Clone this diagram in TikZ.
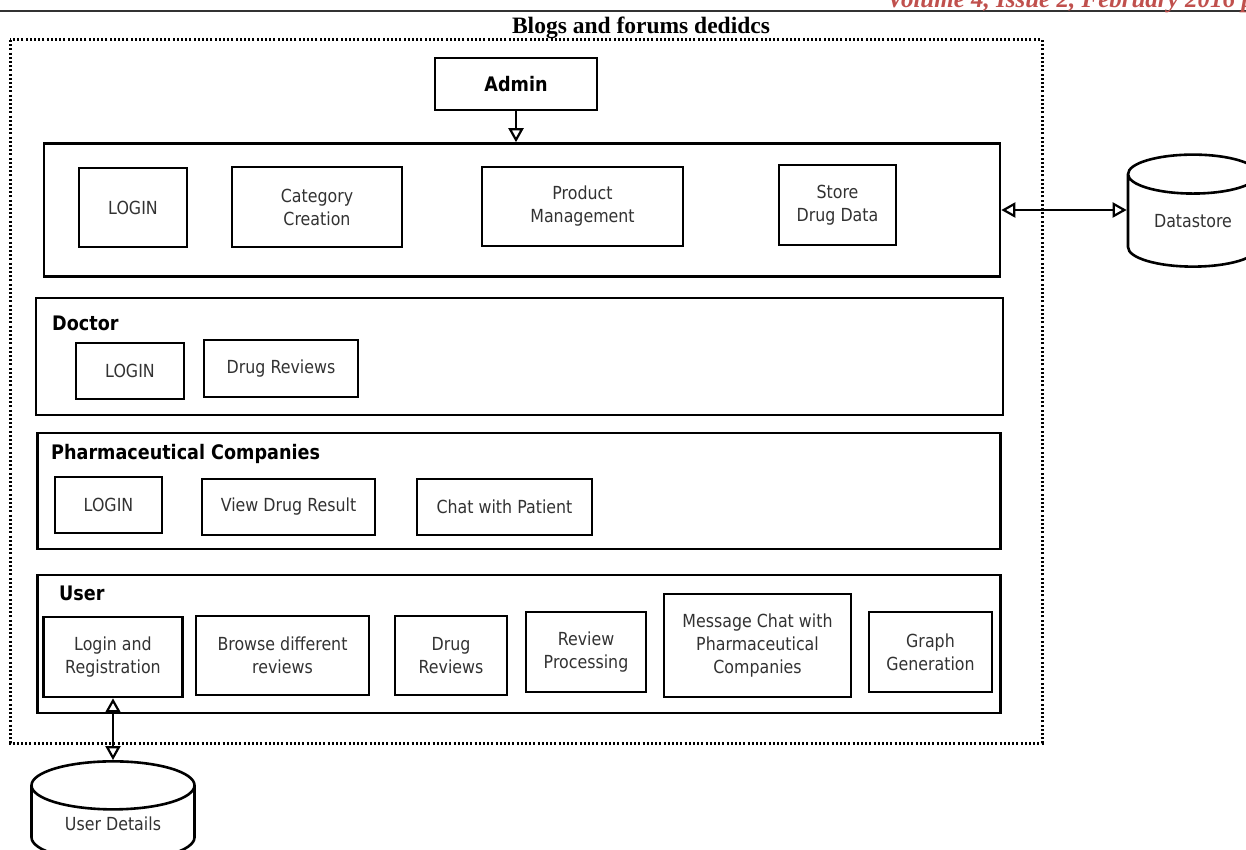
\documentclass[tikz,border=0pt]{standalone}
\usepackage{fontspec}
\setmainfont{Liberation Serif}
\newfontfamily\boxfont[FakeStretch=0.88]{DejaVu Sans}
\usetikzlibrary{arrows.meta,shapes.geometric}
\definecolor{hdrred}{RGB}{192,80,77}
\definecolor{txtgray}{RGB}{50,50,50}
\begin{document}
\begin{tikzpicture}
  [x=1pt,y=-1pt,
   box/.style={draw,line width=2.6pt,inner sep=0pt,align=center,text=txtgray,
     font=\boxfont\fontsize{18}{23}\selectfont},
   panel/.style={draw,line width=2.6pt,inner sep=0pt},
   lbl/.style={anchor=west,inner sep=0pt,font=\boxfont\bfseries\fontsize{20}{24}\selectfont},
   store/.style={cylinder,shape border rotate=90,draw,line width=2.6pt,inner sep=0pt,
     aspect=0.5,text=txtgray,font=\boxfont\fontsize{18}{23}\selectfont},
   link/.style={line width=2.4pt,-{Triangle[open,length=14pt,width=15pt,line width=2.2pt]}},
   dlink/.style={line width=2.4pt,{Triangle[open,length=14pt,width=15pt,line width=2.2pt]}-{Triangle[open,length=14pt,width=15pt,line width=2.2pt]}}]
  \useasboundingbox (0,0) rectangle (1246,850);

  % header
  \draw[line width=1.5pt,black!80] (0,11) -- (1246,11);
  \node (hdr)[anchor=base east,inner sep=0pt,text=hdrred,font=\bfseries\itshape\fontsize{25}{28}\selectfont] at (1254,8) {Volume 4, Issue 2, February 2016 p};
  \node (title)[inner sep=0pt,font=\bfseries\fontsize{23.5}{28}\selectfont] at (641,28) {Blogs and forums dedidcs};
  \draw[line width=3pt,dash pattern=on 2pt off 2.2pt] (10,40) rectangle (1042,743);

  % panels
  \node (apanel)[panel,minimum width=956,minimum height=133] at (522,210) {};
  \node (dpanel)[panel,minimum width=967,minimum height=117] at (519.5,356.5) {};
  \node (ppanel)[panel,minimum width=963,minimum height=116] at (519,491) {};
  \node (upanel)[panel,minimum width=963,minimum height=138] at (519,644) {};

  \node (admin)[box,text=black,minimum width=162,minimum height=52,font=\boxfont\bfseries\fontsize{20}{24}\selectfont] at (516,84) {Admin};
  \node (alogin)[box,minimum width=108,minimum height=79] at (133,207.5) {LOGIN};
  \node (acat)[box,minimum width=170,minimum height=80] at (317,207) {Category\\Creation};
  \node (aprod)[box,minimum width=201,minimum height=79] at (582.5,206.5) {Product\\Management};
  \node (astore)[box,minimum width=117,minimum height=80] at (837.5,205) {Store\\Drug Data};

  \node (dlbl)[lbl] at (52,323) {Doctor};
  \node (dlogin)[box,minimum width=108,minimum height=56] at (130,371) {LOGIN};
  \node (drev)[box,minimum width=154,minimum height=57] at (281,368.5) {Drug Reviews};

  \node (plbl)[lbl] at (51,454) {Pharmaceutical Companies};
  \node (plogin)[box,minimum width=107,minimum height=56] at (108.5,505) {LOGIN};
  \node (pview)[box,minimum width=173,minimum height=56] at (288.5,507) {View Drug Result};
  \node (pchat)[box,minimum width=175,minimum height=56] at (504.5,507) {Chat with Patient};

  \node (ulbl)[lbl] at (59,593) {User};
  \node (ulogin)[box,minimum width=139,minimum height=80] at (113,657) {Login and\\Registration};
  \node (ubrowse)[box,minimum width=173,minimum height=79] at (282.5,655.5) {Browse different\\reviews};
  \node (urev)[box,minimum width=112,minimum height=79] at (451,655.5) {Drug\\Reviews};
  \node (uproc)[box,minimum width=120,minimum height=80] at (586,652) {Review\\Processing};
  \node (umsg)[box,minimum width=187,minimum height=103] at (757.5,645.5) {Message Chat with\\Pharmaceutical\\Companies};
  \node (ugraph)[box,minimum width=123,minimum height=80] at (930.5,652) {Graph\\Generation};

  % stores
  \node (ds)[store,minimum width=130,minimum height=112] at (1193,221) {Datastore};
  \node (ud)[store,minimum width=163,minimum height=100] at (113,824) {User Details};

  \draw[link] (admin) -- (admin |- apanel.north);
  \draw[dlink] (apanel.east) -- (apanel.east -| ds.west);
  \draw[dlink] (ud) -- (ulogin);
\end{tikzpicture}
\end{document}
